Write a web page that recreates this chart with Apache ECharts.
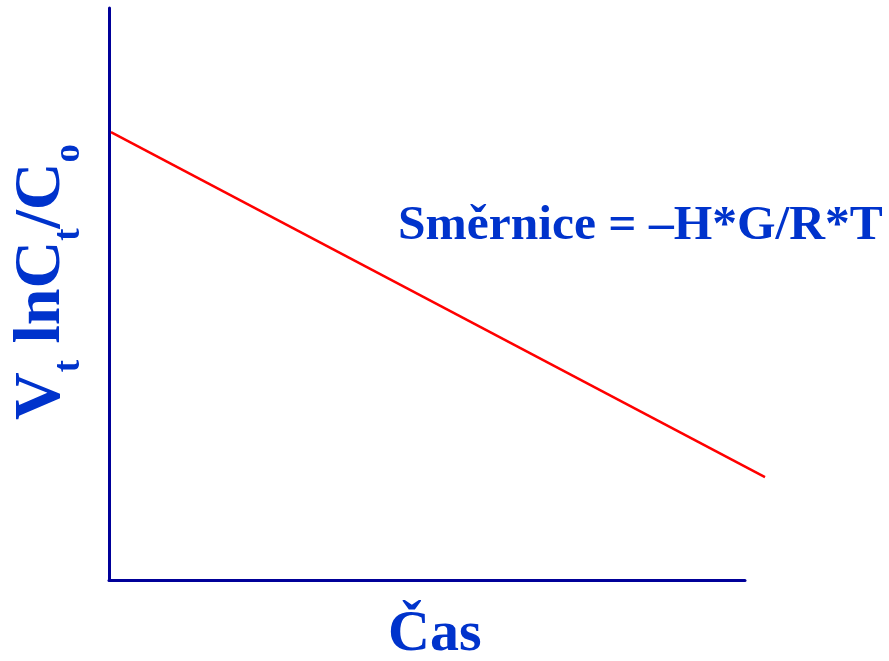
<!DOCTYPE html>
<html>
<head>
<meta charset="utf-8">
<script src="https://cdn.jsdelivr.net/npm/echarts@6/dist/echarts.min.js"></script>
<style>html,body{margin:0;padding:0;background:#fff}#c{width:889px;height:661px}</style>
</head>
<body>
<div id="c"></div>
<script>
// Data
const timePoints = [0.03, 10];
const lnRatio = [7.83, 1.80];
const xLabel = 'Čas';
const slopeText = 'Směrnice = –H*G/R*T';

const chart = echarts.init(document.getElementById('c'));
const blue = '#0033CC';
const serif = '"Liberation Serif", "DejaVu Serif", serif';
const hiddenAxis = {
  axisLine: {show: false}, axisTick: {show: false}, axisLabel: {show: false}, splitLine: {show: false}
};
chart.setOption({
  animation: false,
  backgroundColor: '#fff',
  grid: [
    {left: 109, top: 8, right: 144, bottom: 81},
    {left: 109, top: 8, right: 124, bottom: 81}
  ],
  xAxis: [{
    gridIndex: 0, type: 'value', min: 0, max: 10,
    axisLine: {show: true, lineStyle: {color: '#000099', width: 3}},
    axisTick: {show: false}, axisLabel: {show: false}, splitLine: {show: false}
  }, Object.assign({gridIndex: 1, type: 'value', min: 0, max: 10}, hiddenAxis)],
  yAxis: [{
    gridIndex: 0, type: 'value', min: 0, max: 10,
    axisLine: {show: true, lineStyle: {color: '#000099', width: 3}},
    axisTick: {show: false}, axisLabel: {show: false}, splitLine: {show: false}
  }, Object.assign({gridIndex: 1, type: 'value', min: 0, max: 10}, hiddenAxis)],
  series: [{
    type: 'line',
    xAxisIndex: 1, yAxisIndex: 1,
    data: timePoints.map((t, i) => [t, lnRatio[i]]),
    clip: false,
    symbol: 'none',
    lineStyle: {color: '#FF0000', width: 2.5}
  }],
  graphic: [
    {
      type: 'text', left: 388, top: 606,
      style: {text: xLabel, fill: blue, font: 'bold 58px ' + serif}
    },
    {
      type: 'text', left: 398, top: 201,
      style: {text: slopeText, fill: blue, font: 'bold 49.5px ' + serif}
    },
    {
      type: 'text',
      x: 22, y: 420,
      rotation: Math.PI / 2,
      style: {
        text: '{m|V}{s|t}{m| lnC}{s|t}{m|/C}{s|o}',
        fill: blue,
        rich: {
          m: {font: 'bold 66px ' + serif, fill: blue, lineHeight: 66, verticalAlign: 'bottom', padding: [0, 0, 13, 0]},
          s: {font: 'bold 37px ' + serif, fill: blue, lineHeight: 40, verticalAlign: 'bottom'}
        }
      }
    }
  ]
});
</script>
</body>
</html>
